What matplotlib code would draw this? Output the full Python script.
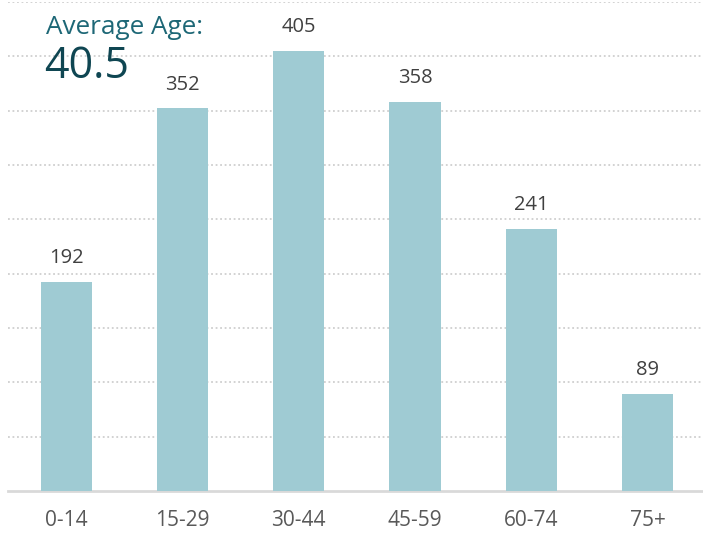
import matplotlib.pyplot as plt
import numpy as np

# age groups and counts
age_groups = ['0-14', '15-29', '30-44', '45-59', '60-74', '75+']
counts = [192, 352, 405, 358, 241, 89]
avg_label = 'Average Age:'
avg_value = '40.5'

plt.rcParams['font.family'] = ['Open Sans', 'DejaVu Sans']

fig = plt.figure(figsize=(7.03, 5.34), dpi=100)
ax = fig.add_axes([8 / 703, 43 / 534, 695 / 703, 489 / 534])

x = np.arange(len(age_groups))
bars = ax.bar(x, counts, width=0.44, color='#9FCBD3', zorder=3)

# value labels above bars
for xi, v in zip(x, counts):
    ax.annotate(str(v), (xi, v), xytext=(0, 10), textcoords='offset points',
                ha='center', va='bottom', fontsize=14.5, color='#404040')

ax.set_xlim(-0.5, -0.5 + 695 / 116.3)
ax.set_ylim(0, 450)
ax.set_yticks(np.arange(50, 451, 50))
ax.yaxis.grid(True, linestyle=(0, (1, 1.5)), color='#CFCFCF', linewidth=1.3, zorder=0)
ax.tick_params(axis='y', left=False, labelleft=False)
ax.tick_params(axis='x', length=0, pad=14, labelsize=15, labelcolor='#595959')
ax.set_xticks(x)
ax.set_xticklabels(age_groups)

for side in ['top', 'right', 'left']:
    ax.spines[side].set_visible(False)
ax.spines['bottom'].set_color('#D9D9D9')
ax.spines['bottom'].set_linewidth(2)

fig.text(46 / 703, 1 - 27 / 534, avg_label, fontsize=18.8, color='#1D6776',
         ha='left', va='center')
fig.text(44 / 703, 1 - 67 / 534, avg_value, fontsize=31, color='#0F4652',
         ha='left', va='center')

fig.savefig('out.png', dpi=100)
